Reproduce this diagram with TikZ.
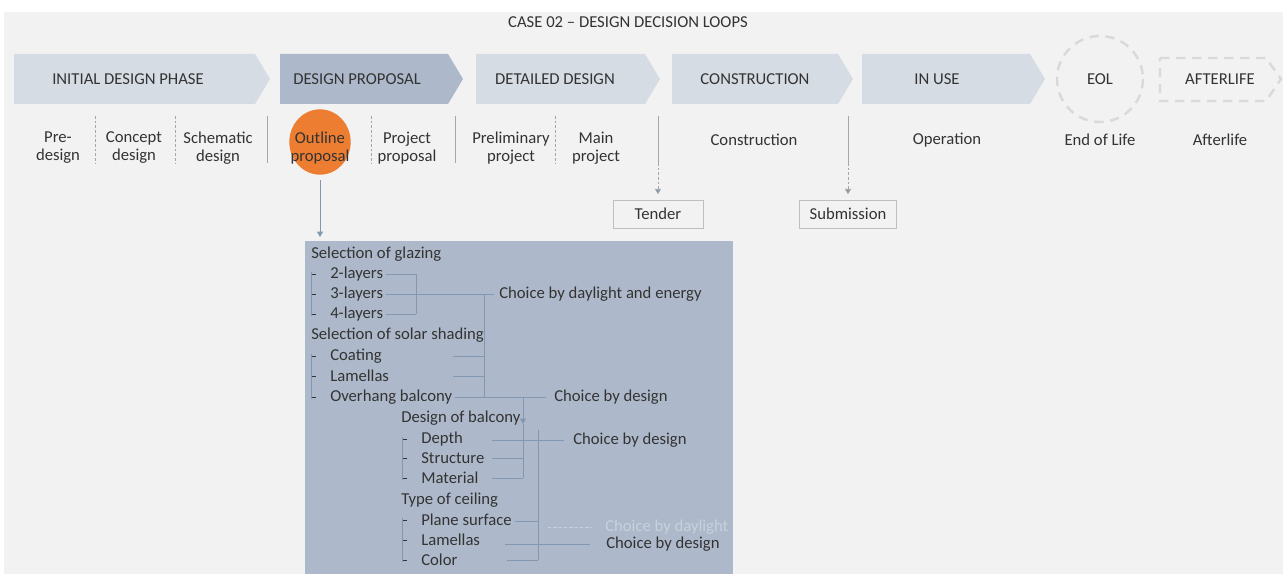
\documentclass[tikz,border=0pt]{standalone}
\usepackage{fontspec}
\setmainfont{Carlito}
\usetikzlibrary{arrows.meta,shapes.geometric}
\definecolor{bg}{HTML}{F2F2F2}
\definecolor{chevl}{HTML}{D6DCE4}
\definecolor{chevd}{HTML}{ADB9CA}
\definecolor{boxc}{HTML}{ADB9CA}
\definecolor{orng}{HTML}{ED7D31}
\definecolor{txt}{HTML}{333333}
\definecolor{linec}{HTML}{8497B0}
\definecolor{sepc}{HTML}{A6A6A6}
\definecolor{dashc}{HTML}{D9D9D9}
\definecolor{fade}{HTML}{C8D0DC}
\definecolor{boxb}{HTML}{BFBFBF}
\begin{document}
\begin{tikzpicture}[x=0.75pt,y=-0.75pt,
  every node/.style={inner sep=0pt, text=txt, font=\fontsize{12.5}{13.5}\selectfont},
  lbl/.style={align=center},
  itm/.style={anchor=west},
  sepd/.style={draw=sepc, dash pattern=on 2pt off 1.5pt, line width=0.5pt},
  seps/.style={draw=sepc, line width=0.7pt},
  cl/.style={draw=linec, line width=0.6pt},
  tipa/.style={-{Triangle[width=4.5pt,length=4pt]}},
  boxed/.style={draw=boxb, fill=bg, line width=0.6pt, minimum height=21pt},
  eold/.style={draw=dashc, line width=1.8pt, dash pattern=on 7pt off 5pt}]
\useasboundingbox (0,0) rectangle (1283,574);
\fill[white] (0,0) rectangle (1283,574);
\fill[bg] (4,12) rectangle (1283,574);

% title
\node[font=\fontsize{12.5}{14}\selectfont] (title) at (628,22) {CASE 02 -- DESIGN DECISION LOOPS};

% phase arrows
\fill[chevl] (14,54) -- (255,54) -- (270,79) -- (255,104) -- (14,104) -- cycle;
\fill[chevd] (280,54) -- (448,54) -- (463,79) -- (448,104) -- (280,104) -- cycle;
\fill[chevl] (476,54) -- (645,54) -- (660,79) -- (645,104) -- (476,104) -- cycle;
\fill[chevl] (672,54) -- (838,54) -- (853,79) -- (838,104) -- (672,104) -- cycle;
\fill[chevl] (862,54) -- (1030,54) -- (1045,79) -- (1030,104) -- (862,104) -- cycle;
\draw[eold] (1100,79) circle [radius=43];
\draw[eold] (1160,58) -- (1266,58) -- (1281,79) -- (1266,101) -- (1160,101) -- cycle;

\node (ph1) at (128,79) {INITIAL DESIGN PHASE};
\node (ph2) at (357,79) {DESIGN PROPOSAL};
\node (ph3) at (555,79) {DETAILED DESIGN};
\node (ph4) at (755,79) {CONSTRUCTION};
\node (ph5) at (937,79) {IN USE};
\node (ph6) at (1100,79) {EOL};
\node (ph7) at (1220,79) {AFTERLIFE};

% sub-phases
\node[lbl] (s1) at (58,148) {Pre-\\design};
\node[lbl] (s2) at (134,148) {Concept\\design};
\node[lbl] (s3) at (218,148) {Schematic\\design};
\node[ellipse, fill=orng, minimum width=46pt, minimum height=49pt] (op) at (320,142) {};
\node[lbl, text=black!80] (opt) at (320,148) {Outline\\proposal};
\node[lbl] (s5) at (407,148) {Project\\proposal};
\node[lbl] (s6) at (511,148) {Preliminary\\project};
\node[lbl] (s7) at (596,148) {Main\\project};
\node (s8) at (754,140) {Construction};
\node (s9) at (947,140) {Operation};
\node (s10) at (1100,140) {End of Life};
\node (s11) at (1220,140) {Afterlife};

\draw[sepd] (95,116) -- (95,163);
\draw[sepd] (175,116) -- (175,163);
\draw[seps] (267,116) -- (267,163);
\draw[sepd] (371,116) -- (371,163);
\draw[seps] (455,116) -- (455,163);
\draw[sepd] (555,116) -- (555,163);

% tender / submission
\node[boxed, minimum width=67.5pt] (tender) at (658,214) {Tender};
\node[boxed, minimum width=72.75pt] (subm) at (848,214) {Submission};
\coordinate (t0) at (658,116);
\coordinate (t1) at (658,163);
\coordinate (u0) at (848,116);
\coordinate (u1) at (848,163);
\draw[seps] (t0) -- (t1);
\draw[seps] (u0) -- (u1);
\draw[draw=sepc, line width=0.5pt, dash pattern=on 2pt off 1.5pt, -{Triangle[width=4.5pt,length=4pt,fill=linec]}, shorten >=4pt] (t1) -- (tender.north);
\draw[draw=sepc, line width=0.5pt, dash pattern=on 2pt off 1.5pt, -{Triangle[width=4.5pt,length=4pt,fill=linec]}, shorten >=4pt] (u1) -- (subm.north);

% big box
\node[fill=boxc, minimum width=321pt, minimum height=250pt, anchor=north west] (box) at (305,241) {};
\draw[cl, tipa, shorten <=4pt, shorten >=3pt] (op.south) -- (op.south |- box.north);

% box items
\node[itm] (sg) at (311,254) {Selection of glazing};
\node[itm] (l2) at (330,274) {2-layers};
\node[itm] (l3) at (330,294) {3-layers};
\node[itm] (l4) at (330,314) {4-layers};
\node[itm] (ss) at (311,335) {Selection of solar shading};
\node[itm] (co) at (330,356) {Coating};
\node[itm] (la) at (330,376) {Lamellas};
\node[itm] (ov) at (330,397) {Overhang balcony};
\node[itm] (db) at (401,418) {Design of balcony};
\node[itm] (de) at (421,439) {Depth};
\node[itm] (st) at (421,458) {Structure};
\node[itm] (ma) at (421,478) {Material};
\node[itm] (tc) at (401,500) {Type of ceiling};
\node[itm] (ps) at (421,520) {Plane surface};
\node[itm] (lb) at (421,540) {Lamellas};
\node[itm] (cr) at (421,560) {Color};

% list dashes and brackets
\foreach \y in {274,294,314,356,376,397} {\draw[draw=txt, line width=0.6pt] (311,\y) -- (316,\y);}
\foreach \y in {439,458,478,520,540,560} {\draw[draw=txt, line width=0.6pt] (402,\y) -- (407,\y);}
\draw[draw=linec, line width=0.4pt] (311,272) -- (311,316);
\draw[draw=linec, line width=0.4pt] (311,354) -- (311,399);
\draw[draw=linec, line width=0.4pt] (402,437) -- (402,480);
\draw[draw=linec, line width=0.4pt] (402,518) -- (402,562);

% choices
\node[itm] (ch1) at (499,294) {Choice by daylight and energy};
\node[itm] (ch2) at (554,397) {Choice by design};
\node[itm] (ch3) at (573,440) {Choice by design};
\node[itm, text=fade] (ch4) at (605,527) {Choice by daylight};
\node[itm] (ch5) at (606,544) {Choice by design};

% connectors glazing
\coordinate (g1) at (416,274);
\coordinate (g2) at (416,314);
\draw[cl, shorten <=2pt] (l2.east) -- (g1) -- (g2);
\draw[cl, shorten <=2pt] (l4.east) -- (g2);
\draw[cl, shorten <=2pt, shorten >=4pt] (l3.east) -- (ch1.west);
\coordinate (v1) at (484,294);
\coordinate (v2) at (484,397);
\draw[cl] (v1) -- (v2);
\draw[cl] (453,356) -- (484,356);
\draw[cl] (453,376) -- (484,376);
\draw[cl, shorten <=2pt, shorten >=6pt] (ov.east) -- (ch2.west);

% balcony
\coordinate (b0) at (523,397);
\coordinate (b1) at (523,424);
\coordinate (b2) at (523,478);
\draw[cl, tipa] (b0) -- (b1);
\draw[cl] (b1) -- (b2);
\draw[cl] (492,458) -- (523,458);
\draw[cl] (492,478) -- (b2);
\draw[cl, shorten >=7pt] (492,440) -- (ch3.west);
\coordinate (c1) at (538,430);
\coordinate (c2) at (538,560);
\draw[cl] (c1) -- (c2);
\draw[cl] (515,521) -- (538,521);
\draw[cl] (507,560) -- (c2);
\draw[draw=fade, line width=0.6pt, dash pattern=on 2.5pt off 1.5pt, shorten >=10pt] (548,527) -- (ch4.west);
\draw[cl, shorten >=12pt] (505,544) -- (ch5.west);
\end{tikzpicture}
\end{document}
